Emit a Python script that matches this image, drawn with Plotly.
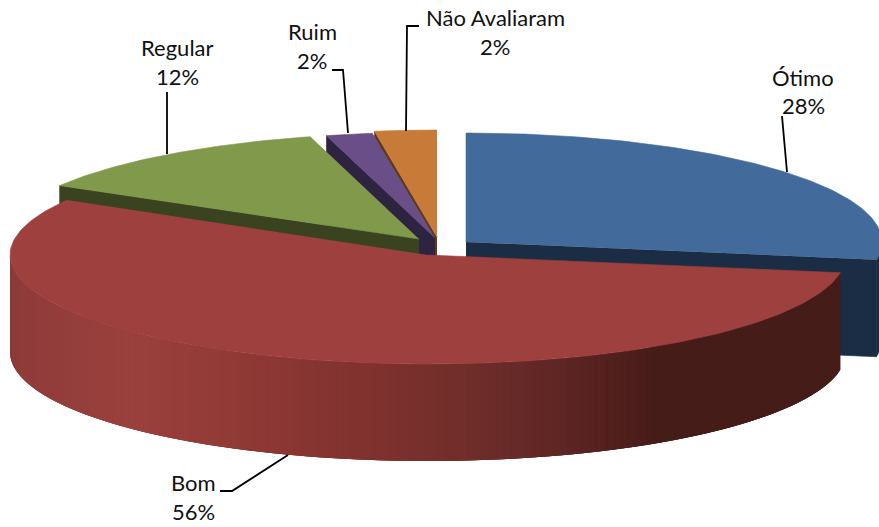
import numpy as np
import plotly.graph_objects as go

# ---- data ----
categories = ["Ótimo", "Bom", "Regular", "Ruim", "Não Avaliaram"]
values = [27.6, 55.8, 12.4, 1.8, 2.4]

# ---- styling / geometry (pixels of the 879x527 canvas) ----
W, H = 879, 527
top_colors = ["#426b9b", "#9d403e", "#81994a", "#6a4e87", "#c87a38"]
wall_colors = ["#1b2d45", "#451c18", "#3a431f", "#2e2340", "#5e3a1a"]
centers = [(466, 242), (428, 255), (419, 239), (435, 238), (437, 237)]
radii = [(416, 109), (418, 109), (416, 106), (416, 106), (416, 107)]
depth = 97
red_depth = 97
draw_order = [0, 4, 3, 2, 1]
red_stops_x = [10, 25, 130, 200, 290, 380, 440, 520, 600, 660, 845]
red_stops_rgb = [(138, 58, 56), (144, 60, 58), (154, 64, 61), (148, 60, 56), (138, 54, 50),
                 (126, 49, 46), (117, 47, 43), (102, 42, 40), (85, 33, 31), (69, 28, 24), (69, 28, 24)]
label_pos = [(803, 77.5, 105.5), (193, 482.5, 511.5), (177, 47.5, 76.5), (312, 31.5, 60.5), (495, 17.5, 46.5)]
leaders = [
    ([782, 787], [116, 172]),
    ([220, 232, 288], [491, 491, 455]),
    ([167, 167], [92, 154]),
    ([332, 343, 348], [70, 70, 133]),
    ([419, 407, 406], [26, 26, 131]),
]
FONT = "Lato"
FONT_SIZE = 22

fig = go.Figure()


def ell(i, t):
    cx, cy = centers[i]
    rx, ry = radii[i]
    return cx + rx * np.sin(t), cy - ry * np.cos(t)


def poly(xs, ys, color, width=0.6):
    fig.add_trace(go.Scatter(
        x=list(xs), y=list(ys), mode="lines", fill="toself", fillcolor=color,
        line=dict(color=color, width=width), hoverinfo="skip", showlegend=False))


edges = np.cumsum([0] + values) / sum(values) * 2 * np.pi
spans = {i: (edges[i], edges[i + 1]) for i in range(len(values))}

for i in draw_order:
    a, b = spans[i]
    cx, cy = centers[i]
    ts = np.linspace(a, b, 160)
    ex, ey = ell(i, ts)
    if i == 0:
        px, py = ex[-1], ey[-1]
        poly([cx, px, px, cx], [cy, py, py + depth, cy + depth], wall_colors[i])
        vis = ts[ts >= np.pi / 2]
        vx, vy = ell(i, vis)
        poly(np.r_[vx, vx[::-1]], np.r_[vy, vy[::-1] + depth], wall_colors[i])
    elif i != 1:
        px, py = ex[0], ey[0]
        poly([cx, px, px, cx], [cy, py, py + depth, cy + depth], wall_colors[i])
    else:
        # red rim: shaded by horizontal position; each strip overlaps the next to hide seams
        rim_end = min(b, 3 * np.pi / 2)
        rim = np.linspace(a, rim_end, 171)
        step = rim[1] - rim[0]
        for t0 in rim[:-1]:
            seg = np.linspace(t0, min(t0 + 3 * step, rim_end), 6)
            vx, vy = ell(i, seg)
            mx = ell(i, t0 + step / 2)[0]
            rgb = [np.interp(mx, red_stops_x, [c[k] for c in red_stops_rgb]) for k in range(3)]
            col = "rgb(%d,%d,%d)" % tuple(int(round(v)) for v in rgb)
            poly(np.r_[vx, vx[::-1]], np.r_[vy, vy[::-1] + red_depth], col, width=0)
    poly(np.r_[cx, ex], np.r_[cy, ey], top_colors[i])

for lx, ly in leaders:
    fig.add_trace(go.Scatter(x=lx, y=ly, mode="lines", line=dict(color="black", width=1.8),
                             hoverinfo="skip", showlegend=False))

total = sum(values)
for name, v, (x, y1, y2) in zip(categories, values, label_pos):
    for txt, y in ((name, y1), ("%d%%" % round(v / total * 100), y2)):
        fig.add_annotation(x=x, y=y, text=txt, showarrow=False, xanchor="center", yanchor="middle",
                           font=dict(family=FONT, size=FONT_SIZE, color="#111111"))

fig.update_layout(
    width=W, height=H, margin=dict(l=0, r=0, t=0, b=0),
    paper_bgcolor="white", plot_bgcolor="white", showlegend=False,
    xaxis=dict(range=[0, W], visible=False, fixedrange=True),
    yaxis=dict(range=[H, 0], visible=False, fixedrange=True),
)
fig.write_html("out.html", config={"displayModeBar": False},
               post_script="document.body.style.margin='0';document.body.style.overflow='hidden';")
